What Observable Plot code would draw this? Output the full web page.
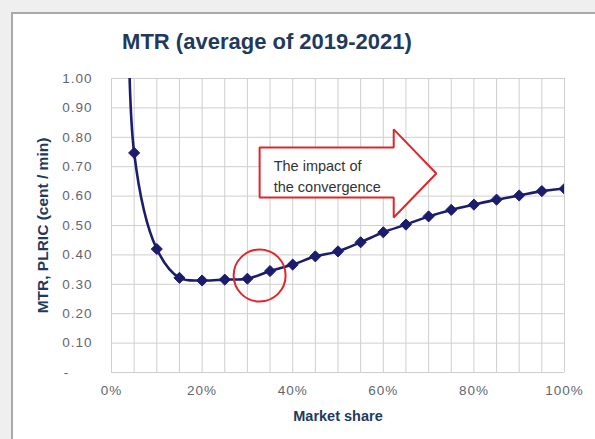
<!DOCTYPE html>
<html>
<head>
<meta charset="utf-8">
<script src="https://cdn.jsdelivr.net/npm/d3@7"></script>
<script src="https://cdn.jsdelivr.net/npm/@observablehq/plot@0.6"></script>
<style>
  html, body { margin: 0; padding: 0; background: #efefef; width: 595px; height: 439px; overflow: hidden; font-family: "Liberation Sans", Arial, sans-serif; }
  #frame { position: absolute; left: 11px; top: 12px; width: 600px; height: 440px; background: #fff; border-left: 2px solid #a9a9a9; border-top: 2px solid #a9a9a9; }
  #title { position: absolute; left: 0; width: 534px; top: 29px; text-align: center; font-size: 22px; font-weight: bold; color: #1f3a5c; white-space: nowrap; }
  #chart { position: absolute; left: 0; top: 0; }
  #chart svg g[aria-label="y-axis tick label"] text,
  #chart svg g[aria-label="x-axis tick label"] text { letter-spacing: 1px; }
</style>
</head>
<body>
<div id="frame"></div>
<div id="title">MTR (average of 2019-2021)</div>
<div id="chart"></div>
<script>
// Market share (%) and MTR (cent/min); first point is the off-scale start of the curve
const marketShare = [4, 5, 10, 15, 20, 25, 30, 35, 40, 45, 50, 55, 60, 65, 70, 75, 80, 85, 90, 95, 100];
const mtrValues  = [2.0, 0.747, 0.42, 0.322, 0.313, 0.316, 0.319, 0.345, 0.367, 0.395, 0.412, 0.443, 0.477, 0.503, 0.531, 0.553, 0.571, 0.588, 0.602, 0.617, 0.625];
const xTicks = [0, 20, 40, 60, 80, 100];
const yTicks = [0, 0.1, 0.2, 0.3, 0.4, 0.5, 0.6, 0.7, 0.8, 0.9, 1.0];
const xGrid = d3.range(0, 101, 5);
// annotation data (data coordinates)
const arrowShare = [32.7, 62.3, 62.3, 71.7, 62.3, 62.3, 32.7, 32.7];
const arrowMtr   = [0.765, 0.765, 0.827, 0.677, 0.527, 0.595, 0.595, 0.765];
const arrowText = ["The impact of\nthe convergence"];
const arrowTextAt = [{share: 35.8, mtr: 0.674}];
const circleAt = [{share: 32.7, mtr: 0.33}];

const data = marketShare.map((s, i) => ({share: s, mtr: mtrValues[i]}));
const arrow = arrowShare.map((s, i) => ({share: s, mtr: arrowMtr[i]}));

const navy = "#1c1c6e";
const red = "#e0262b";
const labelColor = "#1f3a5c";
const tickColor = "#5f6670";

const chart = Plot.plot({
  width: 595,
  height: 439,
  marginLeft: 111,
  marginRight: 31,
  marginTop: 78,
  marginBottom: 67,
  style: { background: "transparent", fontFamily: "'Liberation Sans', Arial, sans-serif" },
  x: { domain: [0, 100] },
  y: { domain: [0, 1] },
  marks: [
    Plot.gridX(xGrid, { stroke: "#cfcfcf", strokeOpacity: 1 }),
    Plot.gridY(yTicks, { stroke: "#cfcfcf", strokeOpacity: 1 }),
    Plot.axisX(xTicks, { tickSize: 0, tickPadding: 13, tickFormat: d => d + "%", fontSize: 13.5, fill: tickColor, label: null }),
    Plot.axisY(yTicks, { tickSize: 0, tickPadding: 19, tickFormat: d => d === 0 ? "-\u2002\u2002\u2002" : d3.format(".2f")(d), fontSize: 13.5, fill: tickColor, label: null }),
    Plot.line(data, { x: "share", y: "mtr", curve: "catmull-rom", stroke: navy, strokeWidth: 2.6, clip: true }),
    Plot.dot(data, { x: "share", y: "mtr", symbol: "diamond2", r: 5, fill: navy, stroke: navy, strokeWidth: 1, clip: true }),
    Plot.line(arrow, { x: "share", y: "mtr", stroke: red, strokeWidth: 2, fill: "white", strokeLinejoin: "miter" }),
    Plot.text(arrowText, { x: () => arrowTextAt[0].share, y: () => arrowTextAt[0].mtr, textAnchor: "start", lineAnchor: "middle", lineHeight: 1.45, fontSize: 14.5, fill: "#333" }),
    Plot.dot(circleAt, { x: "share", y: "mtr", r: 26, stroke: red, strokeWidth: 2, fill: "none" }),
    Plot.text(["MTR, PLRIC (cent / min)"], { frameAnchor: "left", textAnchor: "middle", lineAnchor: "middle", dx: -68, rotate: -90, fontSize: 15.5, fontWeight: "bold", fill: labelColor }),
    Plot.text(["Market share"], { frameAnchor: "bottom", lineAnchor: "bottom", dy: 48, fontSize: 14.5, fontWeight: "bold", fill: labelColor })
  ]
});
document.getElementById("chart").appendChild(chart);
</script>
</body>
</html>
